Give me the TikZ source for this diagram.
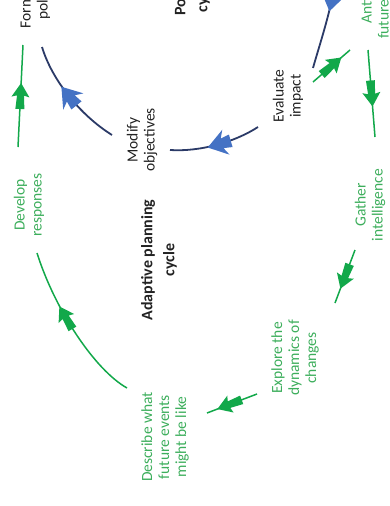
\documentclass[tikz,border=0pt]{standalone}
\usepackage{fontspec}
\setmainfont{Carlito}
\usetikzlibrary{decorations.markings}
\definecolor{lgreen}{HTML}{12A84A}
\definecolor{tgreen}{HTML}{3DAE5C}
\definecolor{navy}{HTML}{2B3A67}
\definecolor{bfill}{HTML}{4472C4}
\definecolor{tdark}{HTML}{222222}
\newcommand\mygshape{\fill[lgreen] (13,0) -- (-1,9) -- (0.5,3.5) -- (-13,4.5) -- (-13,-4.5) -- (0.5,-3.5) -- (-1,-9) -- cycle;}
\newcommand\mybshape{\fill[bfill] (13,0) -- (-6,13) -- (-2,5) -- (-11,6.5) -- (-11,-6.5) -- (-2,-5) -- (-6,-13) -- cycle;}
\tikzset{
  lbl/.style={rotate=90, align=center, inner sep=0pt, text=tdark, font=\fontsize{15.5}{17}\selectfont},
  glbl/.style={lbl, text=tgreen},
  ttl/.style={rotate=90, align=center, inner sep=0pt, text=tdark, font=\fontsize{16}{22}\selectfont\bfseries},
  gline/.style={draw=lgreen, line width=1.5pt, postaction={decorate},
    decoration={markings, mark=at position #1 with {\mygshape}}},
  bline/.style={draw=navy, line width=1.8pt, postaction={decorate},
    decoration={markings, mark=at position #1 with {\mybshape}}},
}
\begin{document}
\begin{tikzpicture}[x=1pt, y=-1pt]
\useasboundingbox (0,0) rectangle (390,506);
% labels
\node[lbl] (form) at (35,-4) {Formulate\\policies};
\node[ttl] (pol) at (192,-4) {Policy\\cycle};
\node[glbl] (anti) at (376,-8) {Anticipate\\future changes};
\node[lbl] (mod) at (142,140) {Modify\\objectives};
\node[lbl] (eval) at (288,96) {Evaluate\\impact};
\node[glbl] (dev) at (29,205) {Develop\\responses};
\node[ttl] (adapt) at (159,260) {Adaptive planning\\cycle};
\node[glbl] (gath) at (370,205) {Gather\\intelligence};
\node[glbl] (expl) at (295,358) {Explore the\\dynamics of\\changes};
\node[glbl] (desc) at (165,437) {Describe what\\future events\\might be like};
% connector end points
\coordinate (b1a) at (112,135); \coordinate (b1b) at (42,47);
\coordinate (b2a) at (258,127); \coordinate (b2b) at (170,150);
\coordinate (b3a) at (333,-6);  \coordinate (b3b) at (313,68);
\coordinate (g1a) at (18,147);  \coordinate (g1b) at (23,45);
\coordinate (g2a) at (127,388); \coordinate (g2b) at (37,253);
\coordinate (g3a) at (257,394); \coordinate (g3b) at (207,413);
\coordinate (g4a) at (355,250); \coordinate (g4b) at (335,303);
\coordinate (g5a) at (368,50);  \coordinate (g5b) at (375,137);
\coordinate (g6a) at (313,82);  \coordinate (g6b) at (350,50);
% policy cycle (blue)
\path[bline=0.5] (b1a) .. controls (80,115) and (52,80) .. (b1b);
\path[bline=0.45] (b2a) .. controls (235,142) and (200,152) .. (b2b);
\path[bline=0.06] (b3a) .. controls (328,20) and (318,50) .. (b3b);
% adaptive cycle (green)
\path[gline=0.5] (g1a) -- (g1b);
\path[gline=0.57] (g2a) .. controls (95,370) and (55,310) .. (g2b);
\path[gline=0.55] (g3a) -- (g3b);
\path[gline=0.5] (g4a) -- (g4b);
\path[gline=0.5] (g5a) -- (g5b);
\path[gline=0.5] (g6a) -- (g6b);
\end{tikzpicture}
\end{document}
